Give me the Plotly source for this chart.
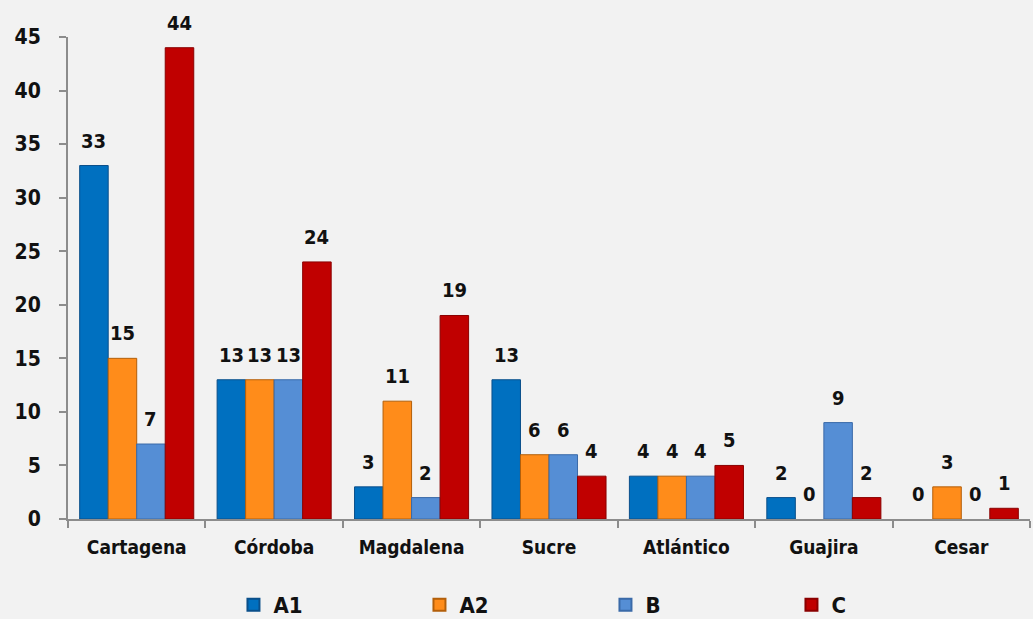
import plotly.graph_objects as go

categories = ["Cartagena", "Córdoba", "Magdalena", "Sucre", "Atlántico", "Guajira", "Cesar"]
series_names = ["A1", "A2", "B", "C"]
a1 = [33, 13, 3, 13, 4, 2, 0]
a2 = [15, 13, 11, 6, 4, 0, 3]
b = [7, 13, 2, 6, 4, 9, 0]
c = [44, 24, 19, 4, 5, 2, 1]
colors = ["#0070c0", "#ff8c1a", "#558ed5", "#c00000"]
edge_colors = ["#0a4f8a", "#b35f0a", "#3a6aa8", "#8a0000"]
y_ticks = [0, 5, 10, 15, 20, 25, 30, 35, 40, 45]

font_family = "DejaVu Sans Condensed, Liberation Sans, Arial, sans-serif"
BARGAP = 0.17

fig = go.Figure()
all_series = [a1, a2, b, c]
n = len(all_series)
bw = (1 - BARGAP) / n
for i, (name, vals, col, ec) in enumerate(zip(series_names, all_series, colors, edge_colors)):
    fig.add_trace(go.Bar(
        name=name, x=categories, y=vals,
        marker=dict(color=col, line=dict(color=ec, width=[1 if v > 0 else 0 for v in vals])),
        cliponaxis=False,
    ))
    off = (i - (n - 1) / 2) * bw
    for j, v in enumerate(vals):
        fig.add_annotation(x=j + off, y=v, text=str(v), showarrow=False,
                           xref="x", yref="y", yanchor="bottom", yshift=11,
                           font=dict(family=font_family, size=20, color="#111111", weight="bold"))

fig.update_layout(
    barmode="group", bargap=BARGAP, bargroupgap=0,
    paper_bgcolor="#f2f2f2", plot_bgcolor="#f2f2f2",
    width=1033, height=619,
    margin=dict(l=68, r=3, t=37, b=100, autoexpand=False),
    font=dict(family=font_family, color="#111111", weight="bold"),
    legend=dict(orientation="h", x=0.172, xanchor="left", y=-0.135, yanchor="top",
                font=dict(family=font_family, size=22, color="#111111", weight="bold"),
                entrywidth=141, entrywidthmode="pixels", traceorder="normal",
                itemsizing="constant"),
)
fig.update_xaxes(showline=True, linecolor="#8c8c8c", linewidth=2,
                 ticks="outside", tickson="boundaries", ticklen=7, tickcolor="#8c8c8c", tickwidth=2,
                 tickfont=dict(family=font_family, size=19, color="#111111", weight="bold"),
                 ticklabelstandoff=10, showgrid=False)
fig.update_yaxes(range=[0, 45], tickvals=y_ticks, showline=True, linecolor="#8c8c8c", linewidth=2,
                 ticks="outside", ticklen=7, tickcolor="#8c8c8c", tickwidth=2,
                 tickfont=dict(family=font_family, size=21, color="#111111", weight="bold"),
                 ticklabelstandoff=14, showgrid=False, zeroline=False)

fig.write_html("out.html", post_script="document.body.style.margin='0';",
               config={"displayModeBar": False})
